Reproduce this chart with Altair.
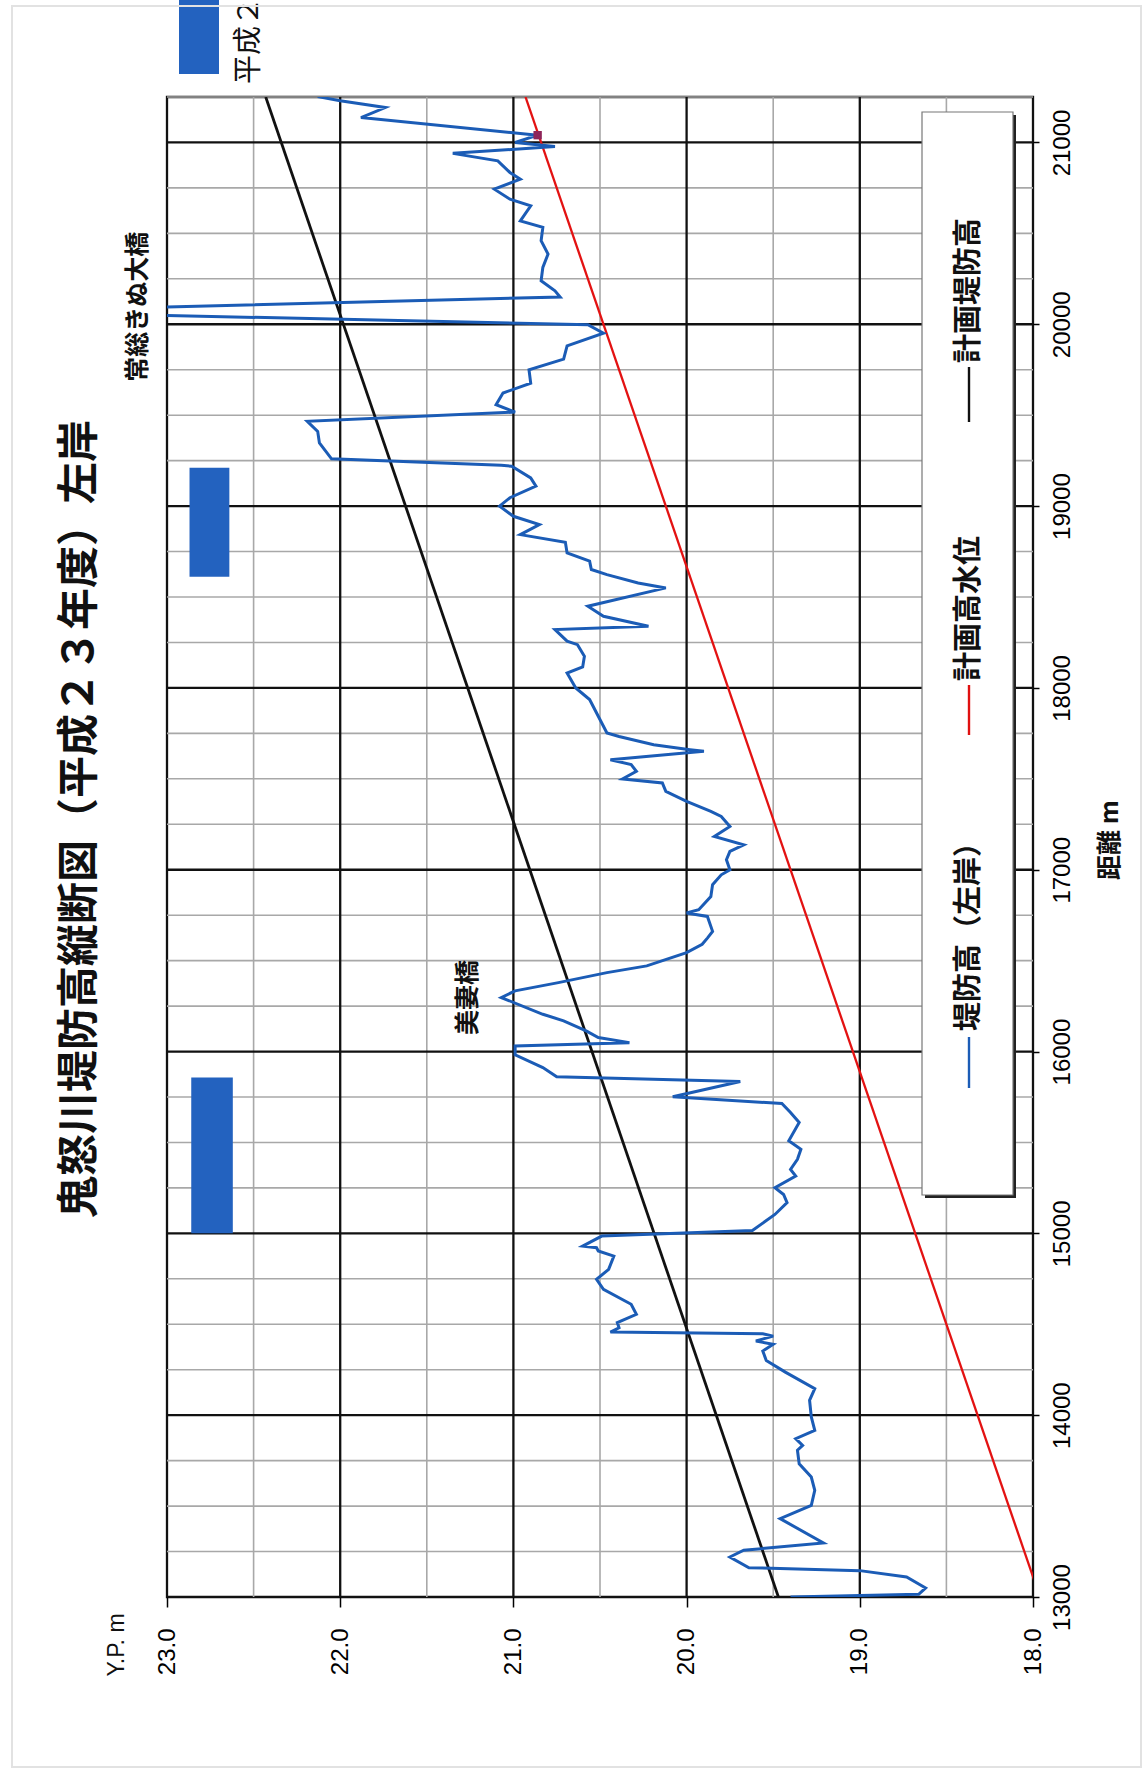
import altair as alt
import pandas as pd

# ---- levee crest profile, left bank (distance m, elevation Y.P. m) ----
levee_dist = [
    13000, 13015, 13050, 13110, 13145, 13161, 13220, 13257, 13297, 13431,
    13504, 13587, 13660, 13733, 13807, 13834, 13871, 13917, 13990, 14082,
    14146, 14237, 14301, 14353, 14390, 14408, 14435, 14448, 14457, 14481,
    14509, 14555, 14610, 14692, 14747, 14802, 14875, 14903, 14921, 14930,
    14985, 15016, 15104, 15169, 15214, 15251, 15315, 15352, 15407, 15462,
    15509, 15610, 15665, 15714, 15751, 15835, 15861, 15912, 15982, 16031,
    16049, 16077, 16114, 16169, 16205, 16297, 16334, 16379, 16434, 16471,
    16544, 16590, 16624, 16661, 16743, 16762, 16780, 16853, 16918, 16972,
    17000, 17055, 17101, 17137, 17183, 17238, 17293, 17321, 17376, 17431,
    17477, 17499, 17541, 17578, 17605, 17651, 17660, 17687, 17733, 17752,
    17844, 17936, 18000, 18082, 18115, 18174, 18238, 18257, 18321, 18339,
    18394, 18449, 18550, 18577, 18623, 18651, 18697, 18742, 18801, 18843,
    18898, 18944, 19000, 19046, 19110, 19155, 19219, 19225, 19260, 19347,
    19411, 19466, 19517, 19558, 19622, 19676, 19750, 19808, 19881, 19951,
    19998, 20070, 20150, 20184, 20239, 20313, 20386, 20459, 20533, 20569,
    20652, 20688, 20743, 20798, 20835, 20899, 20940, 20978, 21000, 21040,
    21137, 21192, 21229, 21252,
]
levee_elev = [
    19.40, 18.66, 18.62, 18.73, 19.00, 19.64, 19.75, 19.67, 19.21, 19.46,
    19.28, 19.26, 19.28, 19.35, 19.36, 19.33, 19.37, 19.26, 19.28, 19.29,
    19.26, 19.43, 19.54, 19.56, 19.50, 19.60, 19.50, 19.56, 20.44, 20.39,
    20.40, 20.29, 20.32, 20.48, 20.52, 20.45, 20.42, 20.51, 20.52, 20.60,
    20.49, 19.62, 19.49, 19.42, 19.44, 19.49, 19.37, 19.40, 19.36, 19.34,
    19.41, 19.35, 19.40, 19.45, 20.08, 19.69, 20.75, 20.83, 20.99, 20.99,
    20.33, 20.51, 20.58, 20.71, 20.83, 21.07, 20.99, 20.74, 20.46, 20.23,
    20.00, 19.91, 19.88, 19.85, 19.88, 20.00, 19.93, 19.86, 19.85, 19.80,
    19.75, 19.77, 19.75, 19.67, 19.84, 19.75, 19.80, 19.86, 20.00, 20.12,
    20.14, 20.37, 20.29, 20.32, 20.44, 19.90, 19.98, 20.19, 20.39, 20.46,
    20.51, 20.56, 20.64, 20.69, 20.60, 20.59, 20.63, 20.69, 20.76, 20.22,
    20.48, 20.57, 20.12, 20.28, 20.46, 20.55, 20.56, 20.69, 20.70, 20.96,
    20.85, 21.00, 21.08, 21.02, 20.87, 20.90, 21.01, 21.07, 22.05, 22.12,
    22.13, 22.19, 20.99, 21.10, 21.06, 20.90, 20.91, 20.71, 20.69, 20.48,
    20.57, 24.04, 20.73, 20.76, 20.84, 20.83, 20.80, 20.84, 20.83, 20.96,
    20.90, 21.02, 21.11, 20.96, 21.02, 21.09, 21.35, 20.76, 20.99, 20.86,
    21.88, 21.74, 22.00, 22.13,
]

# ---- planned levee height and planned high water level ----
plan_dist = [13000, 21250]
plan_levee_elev = [19.47, 22.43]
plan_hwl_elev = [17.96, 20.93]
hwl_point_dist = [21040]
hwl_point_elev = [20.86]

# ---- sections marked as H23 works ----
work_dist_from = [15000, 18611]
work_dist_to = [15857, 19211]
work_elev_low = [22.62, 22.64]
work_elev_high = [22.86, 22.87]

# ---- bridges ----
bridge_names = ["美妻橋", "常総きぬ大橋"]
bridge_dist = [16297, 20096]
bridge_elev = [21.26, 23.17]

# ---- axes / grid ----
elev_ticks = [23, 22, 21, 20, 19, 18]
elev_major = [22, 21, 20, 19]
elev_minor = [22.5, 21.5, 20.5, 19.5, 18.5]
dist_ticks = [13000, 14000, 15000, 16000, 17000, 18000, 19000, 20000, 21000]
dist_major = [14000, 15000, 16000, 17000, 18000, 19000, 20000, 21000]
dist_minor = [13250, 13500, 13750, 14250, 14500, 14750, 15250, 15500, 15750,
              16250, 16500, 16750, 17250, 17500, 17750, 18250, 18500, 18750,
              19250, 19500, 19750, 20250, 20500, 20750, 21250]

title_text = "鬼怒川堤防高縦断図（平成２３年度）左岸"
legend_names = ["堤防高（左岸）", "計画高水位", "計画堤防高"]
legend_colors = ["#1b5cb6", "#e01010", "#111111"]

W, H = 866, 1500
PAD_L, PAD_T = 167, 97
PAD_R, PAD_B = 1147 - PAD_L - W, 1774 - PAD_T - H

JP = "Noto Sans CJK JP"
LAT = "Liberation Sans"
BLUE = "#1b5cb6"

xs = alt.Scale(domain=[18, 23], reverse=True, nice=False, zero=False)
ys = alt.Scale(domain=[13000, 21250], nice=False, zero=False)

x_axis = alt.Axis(values=elev_ticks, format=".1f", labelAngle=270,
                  labelAlign="right", labelBaseline="middle",
                  labelFont=LAT, labelFontSize=24, labelColor="black",
                  labelPadding=21, labelFlush=False, labelOverlap=False,
                  tickSize=10, tickColor="black", tickWidth=1.5,
                  domain=False, grid=False, title=None)
y_axis = alt.Axis(orient="right", values=dist_ticks, format="d",
                  labelAngle=270, labelAlign="center", labelBaseline="top",
                  labelFont=LAT, labelFontSize=24, labelColor="black",
                  labelPadding=11, labelFlush=False, labelOverlap=False,
                  tickSize=6, tickColor="black", tickWidth=1.5,
                  domain=False, grid=False, title=None)


# every layer that places marks by data shares the same two axes
def X(field):
    return alt.X(field, type="quantitative", scale=xs, axis=x_axis)


def Y(field):
    return alt.Y(field, type="quantitative", scale=ys, axis=y_axis)


def one(**kw):
    return alt.Chart(pd.DataFrame([kw]))


layers = []

# grid
layers.append(alt.Chart(pd.DataFrame({"e": elev_minor})).mark_rule(
    color="#a8a8a8", strokeWidth=1.6).encode(x=X("e")))
layers.append(alt.Chart(pd.DataFrame({"d": dist_minor})).mark_rule(
    color="#a8a8a8", strokeWidth=1.6).encode(y=Y("d")))
layers.append(alt.Chart(pd.DataFrame({"e": elev_major})).mark_rule(
    color="#111111", strokeWidth=2.3).encode(x=X("e")))
layers.append(alt.Chart(pd.DataFrame({"d": dist_major})).mark_rule(
    color="#111111", strokeWidth=2.3).encode(y=Y("d")))

# legend box with shadow
bx0, bx1, by0, by1 = 922 - PAD_L, 1013 - PAD_L, 112 - PAD_T, 1195 - PAD_T
layers.append(one(k=1).mark_rect(fill="#222222").encode(
    x=alt.value(bx0 + 3), x2=alt.value(bx1 + 3),
    y=alt.value(by0 + 3), y2=alt.value(by1 + 3)))
layers.append(one(k=1).mark_rect(fill="white", stroke="#777777", strokeWidth=1.2).encode(
    x=alt.value(bx0), x2=alt.value(bx1), y=alt.value(by0), y2=alt.value(by1)))

# work sections
work_df = pd.DataFrame({"d0": work_dist_from, "d1": work_dist_to,
                        "e0": work_elev_high, "e1": work_elev_low})
layers.append(alt.Chart(work_df).mark_rect(color="#2362bf").encode(
    x=X("e0"), x2="e1", y=Y("d0"), y2="d1"))

# planned levee height and planned high water level
plan_df = pd.DataFrame({"d": plan_dist, "levee": plan_levee_elev, "hwl": plan_hwl_elev})
layers.append(alt.Chart(plan_df).mark_line(color="#111111", strokeWidth=2.8, clip=True).encode(
    x=X("levee"), y=Y("d"), order="d:Q"))
layers.append(alt.Chart(plan_df).mark_line(color="#e31212", strokeWidth=2.3, clip=True).encode(
    x=X("hwl"), y=Y("d"), order="d:Q"))

# levee crest profile
levee_df = pd.DataFrame({"d": levee_dist, "e": levee_elev,
                         "i": list(range(len(levee_dist)))})
layers.append(alt.Chart(levee_df).mark_line(color=BLUE, strokeWidth=3, clip=True).encode(
    x=X("e"), y=Y("d"), order="i:Q"))

layers.append(alt.Chart(pd.DataFrame({"d": hwl_point_dist, "e": hwl_point_elev}))
              .mark_square(color="#8e2459", size=70, opacity=1).encode(x=X("e"), y=Y("d")))

# bridge names
bridge_df = pd.DataFrame({"n": bridge_names, "d": bridge_dist, "e": bridge_elev})
layers.append(alt.Chart(bridge_df).mark_text(
    angle=270, align="center", baseline="middle", font=JP, fontSize=25,
    fontWeight="bold", color="#111111").encode(x=X("e"), y=Y("d"), text="n:N"))

# legend entries
leg_line_y = [(1037, 1088), (685, 735), (367, 422)]
leg_text_y = [1031, 681, 363]
for name, col, (l0, l1), ty in zip(legend_names, legend_colors, leg_line_y, leg_text_y):
    layers.append(one(k=1).mark_rule(color=col, strokeWidth=2.4).encode(
        x=alt.value(969 - PAD_L), y=alt.value(l0 - PAD_T), y2=alt.value(l1 - PAD_T)))
    layers.append(one(t=name).mark_text(
        angle=270, align="left", baseline="middle", font=JP, fontSize=29,
        fontWeight="bold", color="#111111").encode(
        x=alt.value(969 - PAD_L), y=alt.value(ty - PAD_T), text="t:N"))

# work-section key above the frame
layers.append(one(k=1).mark_rect(color="#2362bf").encode(
    x=alt.value(179 - PAD_L), x2=alt.value(219 - PAD_L),
    y=alt.value(-PAD_T - 5), y2=alt.value(74 - PAD_T)))
layers.append(one(t="平成２３年度").mark_text(
    angle=270, align="left", baseline="middle", font=JP, fontSize=29,
    color="#111111").encode(x=alt.value(249 - PAD_L), y=alt.value(84 - PAD_T), text="t:N"))

# titles
layers.append(one(t=title_text).mark_text(
    angle=270, align="center", baseline="middle", font=JP, fontSize=42,
    fontWeight="bold", color="#111111").encode(
    x=alt.value(80 - PAD_L), y=alt.value(819 - PAD_T), text="t:N"))
layers.append(one(t="距離 m").mark_text(
    angle=270, align="center", baseline="middle", font=JP, fontSize=25,
    fontWeight="bold", color="#111111").encode(
    x=alt.value(1110 - PAD_L), y=alt.value(840 - PAD_T), text="t:N"))
layers.append(one(t="Y.P. m").mark_text(
    angle=270, align="center", baseline="middle", font=LAT, fontSize=23,
    color="#111111").encode(
    x=alt.value(117 - PAD_L), y=alt.value(1645 - PAD_T), text="t:N"))

# faint sheet edge
layers.append(one(k=1).mark_rect(fill="transparent", stroke="#e2e2e2", strokeWidth=2).encode(
    x=alt.value(12 - PAD_L), x2=alt.value(1141 - PAD_L),
    y=alt.value(6 - PAD_T), y2=alt.value(1767 - PAD_T)))

chart = alt.layer(*layers).properties(
    width=W, height=H,
    padding={"left": PAD_L, "top": PAD_T, "right": PAD_R, "bottom": PAD_B},
    autosize=alt.AutoSizeParams(type="none"),
    background="white",
).configure_view(stroke="#111111", strokeWidth=2.3)

chart.save("out.html", embed_options={"renderer": "svg", "actions": False})
